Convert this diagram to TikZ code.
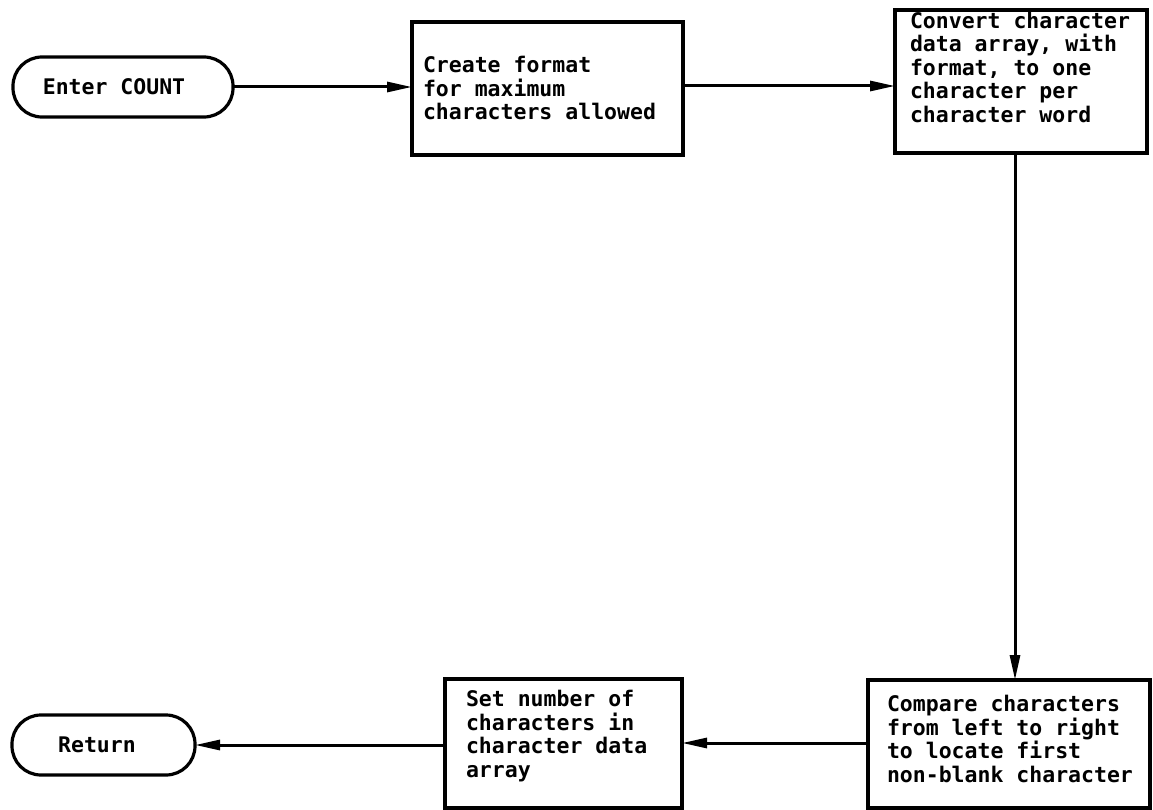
\documentclass[tikz,border=0pt]{standalone}
\usepackage{fontspec}
\setmonofont{DejaVu Sans Mono}
\usetikzlibrary{arrows.meta,calc}
\begin{document}
\begin{tikzpicture}[x=1bp,y=-1bp,
  every node/.style={inner sep=0pt, outer sep=0pt},
  flowtext/.style={font=\ttfamily\bfseries\fontsize{21.5bp}{23.5bp}\selectfont, align=left, anchor=west},
  termbox/.style={draw, line width=3.2bp, rounded corners=29bp},
  procbox/.style={draw, line width=3.2bp},
  flow/.style={line width=3bp, -{Triangle[length=25bp,width=10bp]}}]
  \useasboundingbox (0,0) rectangle (1153,810);

  % terminals and process boxes
  \node[termbox, minimum width=220bp, minimum height=60bp] (enter) at (123,87) {};
  \node[procbox, minimum width=271bp, minimum height=133bp] (create) at (547.5,88.5) {};
  \node[procbox, minimum width=252bp, minimum height=143bp] (convert) at (1021,81.5) {};
  \node[procbox, minimum width=282bp, minimum height=128bp] (compare) at (1009,744) {};
  \node[procbox, minimum width=237bp, minimum height=129bp] (setnum) at (563.5,743.5) {};
  \node[termbox, minimum width=183bp, minimum height=60bp] (return) at (103.5,745) {};

  % box texts
  \node[flowtext, anchor=center] (t-enter) at (114,87) {Enter COUNT};
  \node[flowtext] (t-create) at (423,88) {Create format\\for maximum\\characters allowed};
  \node[flowtext] (t-convert) at (910,67) {Convert character\\data array, with\\format, to one\\character per\\character word};
  \node[flowtext] (t-compare) at (887,739) {Compare characters\\from left to right\\to locate first\\non-blank character};
  \node[flowtext] (t-setnum) at (466,736) {Set number of\\characters in\\character data\\array};
  \node[flowtext, anchor=center] (t-return) at (97,745) {Return};

  % connectors
  \coordinate (col) at (1015,0);
  \draw[flow] (enter.east) -- (create.west |- enter.east);
  \draw[flow] (create.east |- 0,86) -- (convert.west |- 0,86);
  \draw[flow] (col |- convert.south) -- (col |- compare.north);
  \draw[flow] (compare.west |- 0,743) -- (setnum.east |- 0,743);
  \draw[flow] (setnum.west |- return.east) -- (return.east);
\end{tikzpicture}
\end{document}
